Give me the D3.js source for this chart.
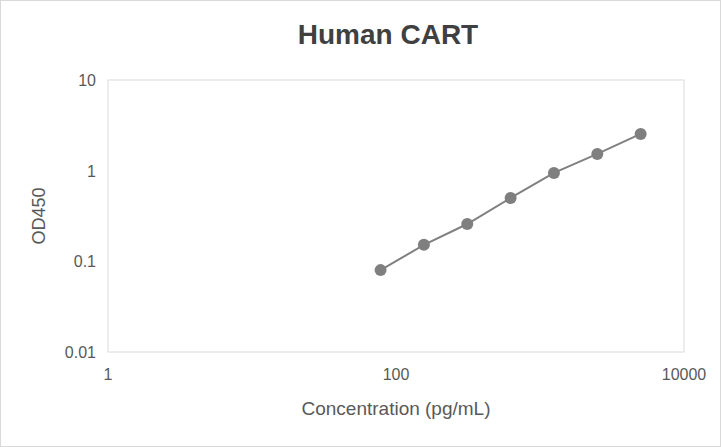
<!DOCTYPE html>
<html><head><meta charset="utf-8">
<script src="https://cdn.jsdelivr.net/npm/d3@7"></script>
<style>body{margin:0;background:#fff}svg{display:block}</style>
</head><body>
<script>
const concentrations = [78.125, 156.25, 312.5, 625, 1250, 2500, 5000];
const od450 = [0.080, 0.152, 0.258, 0.50, 0.944, 1.53, 2.54];
const xTicks = [1, 100, 10000];
const yTicks = [0.01, 0.1, 1, 10];

const W = 721, H = 447;
const svg = d3.select("body").append("svg").attr("width", W).attr("height", H);
svg.append("rect").attr("x",0.5).attr("y",0.5).attr("width",W-1).attr("height",H-1)
  .attr("fill","#fff").attr("stroke","#d9d9d9");
const m = {l:108, r:684, t:80, b:352};
const x = d3.scaleLog().domain([1,10000]).range([m.l,m.r]);
const y = d3.scaleLog().domain([0.01,10]).range([m.b,m.t]);

svg.append("rect").attr("x",m.l).attr("y",m.t).attr("width",m.r-m.l).attr("height",m.b-m.t)
  .attr("fill","none").attr("stroke","#d9d9d9");

const font = "Liberation Sans, Arial, sans-serif";
svg.selectAll(".xt").data(xTicks).enter().append("text")
  .attr("x",d=>x(d)).attr("y",m.b+28).attr("text-anchor","middle")
  .attr("font-family",font).attr("font-size",16).attr("fill","#595959").text(d=>d);
svg.selectAll(".yt").data(yTicks).enter().append("text")
  .attr("x",m.l-12).attr("y",d=>y(d)+6).attr("text-anchor","end")
  .attr("font-family",font).attr("font-size",16).attr("fill","#595959").text(d=>d);

svg.append("text").attr("x",388).attr("y",44).attr("text-anchor","middle")
  .attr("font-family",font).attr("font-size",28).attr("font-weight","bold").attr("fill","#404040").text("Human CART");
svg.append("text").attr("x",396).attr("y",415).attr("text-anchor","middle")
  .attr("font-family",font).attr("font-size",19).attr("fill","#595959").text("Concentration (pg/mL)");
svg.append("text").attr("transform",`translate(45,${(m.t+m.b)/2}) rotate(-90)`).attr("text-anchor","middle")
  .attr("font-family",font).attr("font-size",18).attr("fill","#595959").text("OD450");

const data = concentrations.map((c,i)=>({c, v:od450[i]}));
svg.append("path").datum(data).attr("fill","none").attr("stroke","#808080").attr("stroke-width",2)
  .attr("d", d3.line().x(d=>x(d.c)).y(d=>y(d.v)));
svg.selectAll(".pt").data(data).enter().append("circle")
  .attr("cx",d=>x(d.c)).attr("cy",d=>y(d.v)).attr("r",6).attr("fill","#7f7f7f");
</script>
</body></html>
